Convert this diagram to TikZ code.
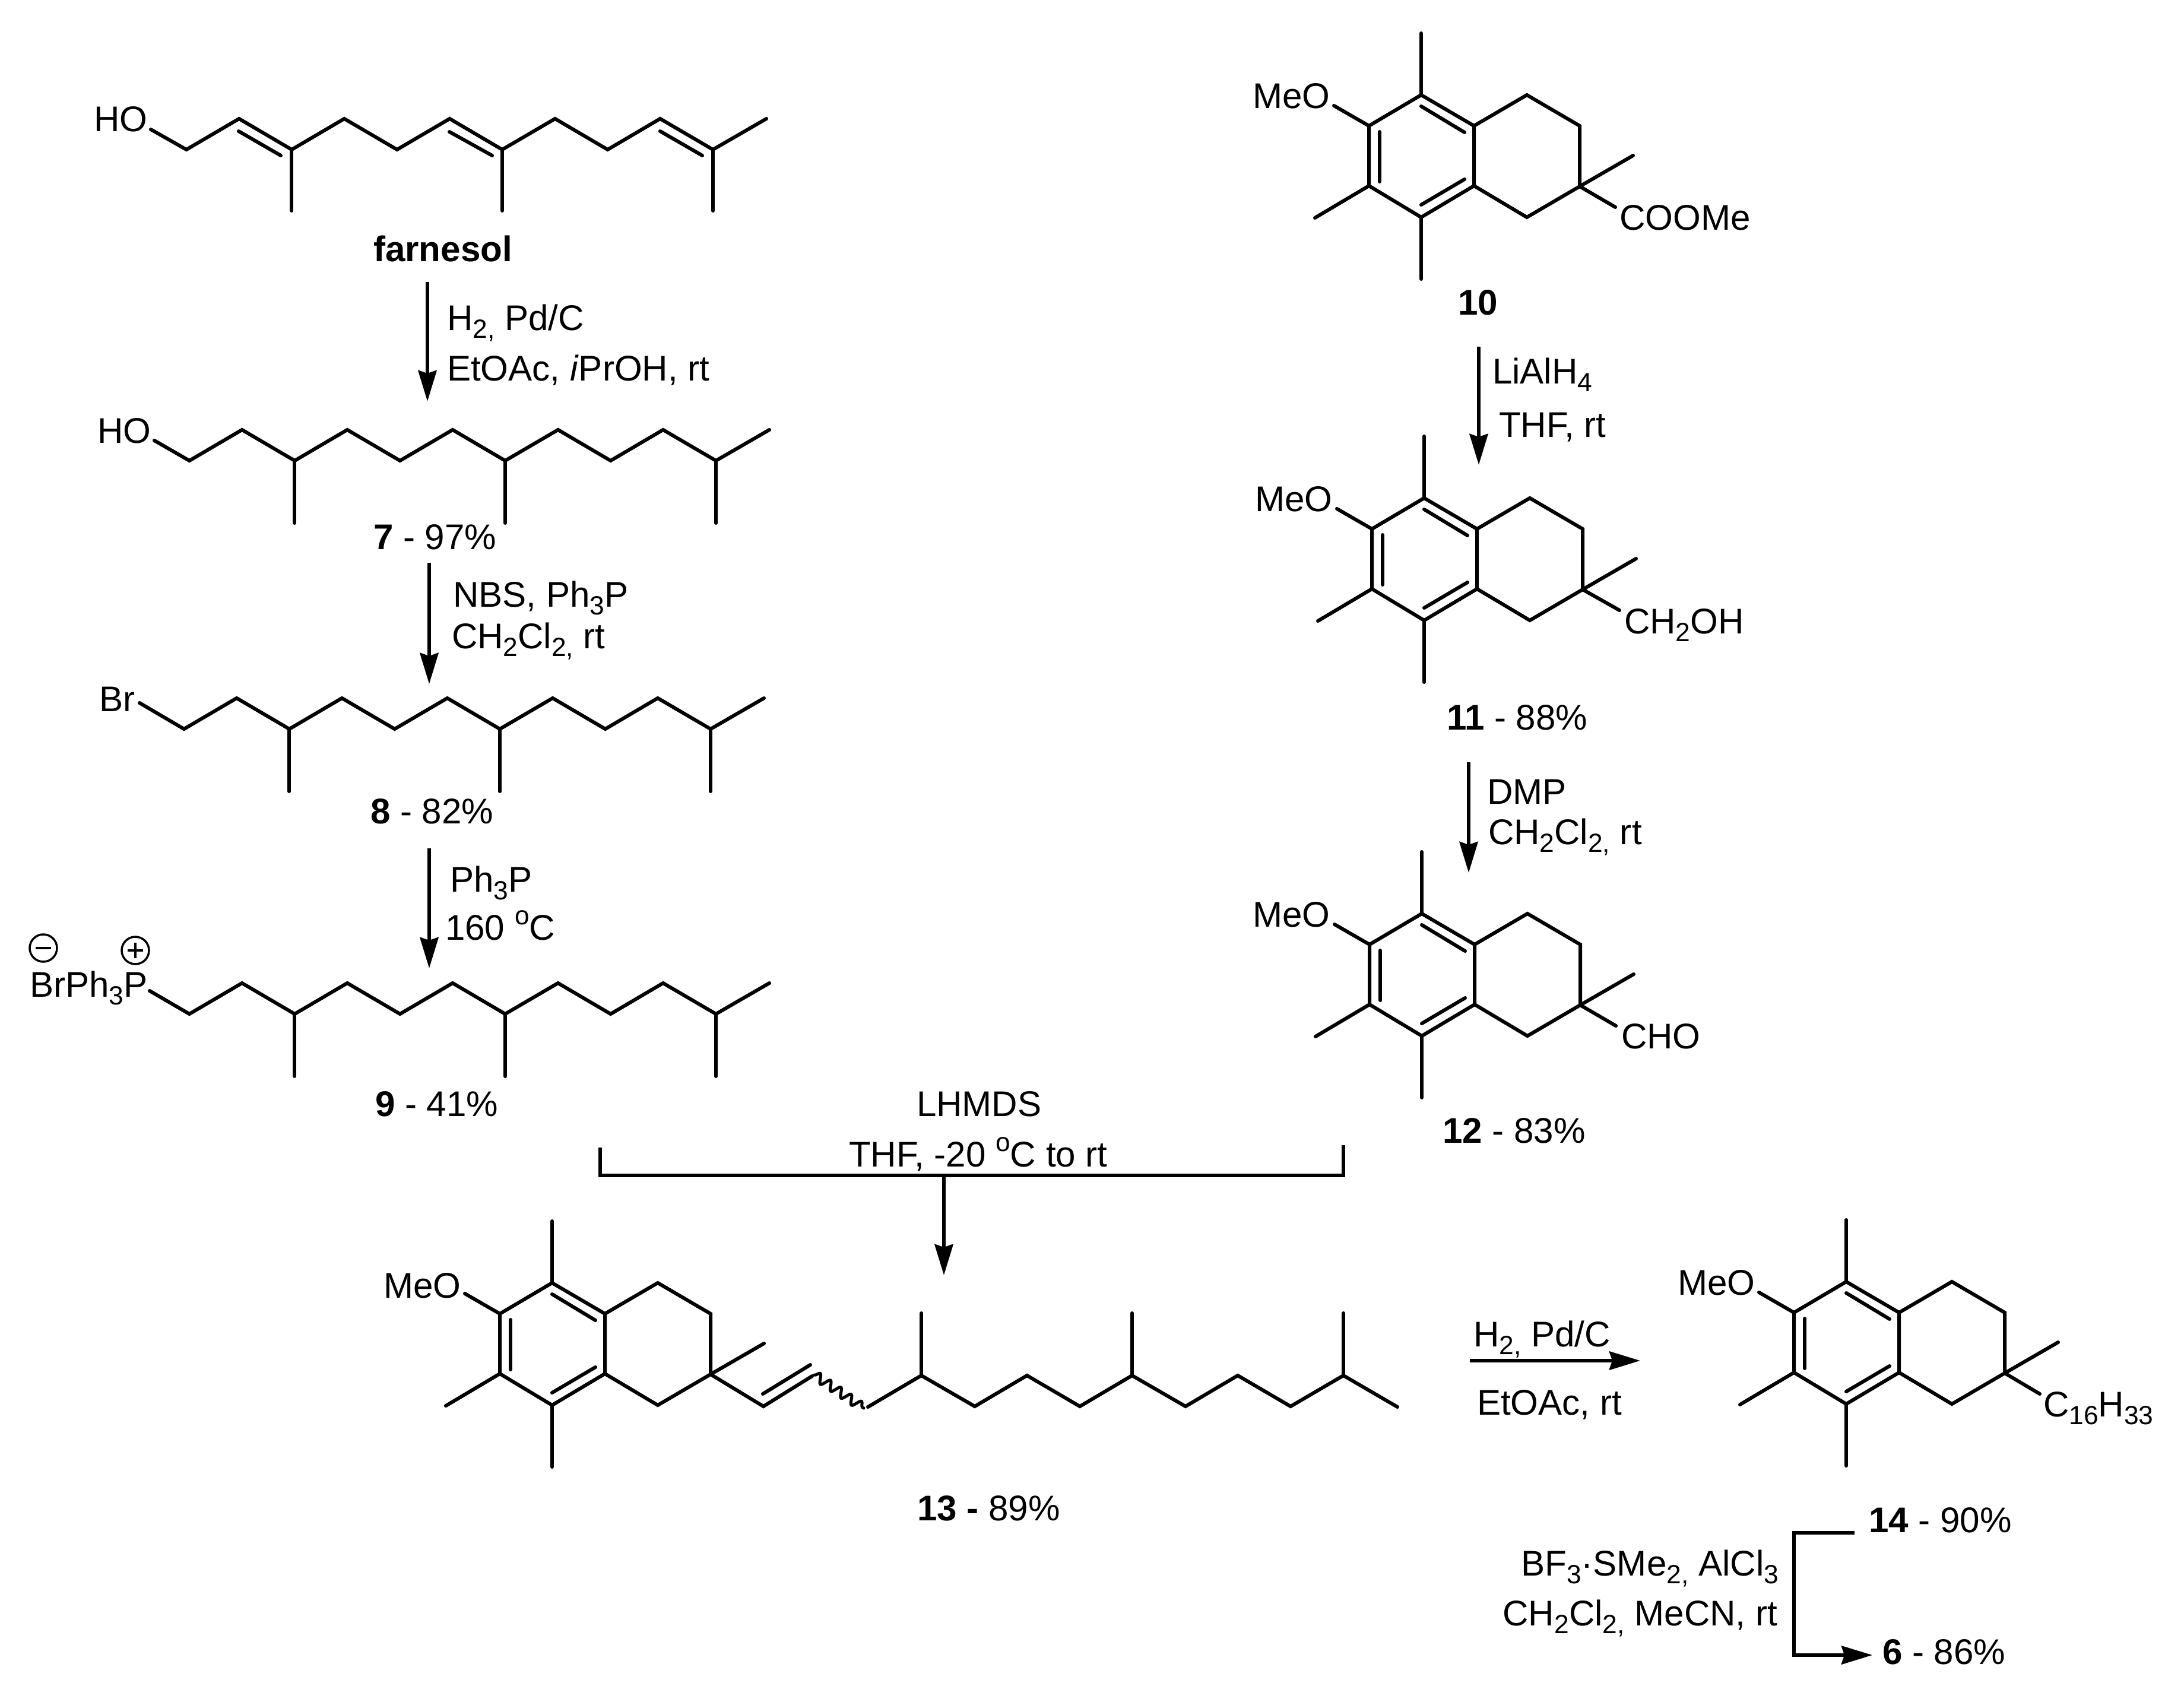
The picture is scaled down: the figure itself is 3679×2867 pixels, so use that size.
\documentclass[tikz,border=0pt]{standalone}
\usepackage{fontspec}
\setmainfont{Liberation Sans}
\usetikzlibrary{arrows.meta,decorations.pathmorphing}
\newcommand{\subs}[1]{\raisebox{-0.23em}{\fontsize{12.6}{14}\selectfont #1}}
\newcommand{\degc}{\raisebox{0.42em}{\fontsize{12.6}{14}\selectfont o}C}
\tikzset{
  bond/.style={line width=0.06cm,line cap=round,line join=miter,black},
  rxn/.style={line width=0.058cm,black,-{Stealth[length=0.52cm,width=0.31cm,inset=0.05cm]}},
  txt/.style={anchor=base west,inner sep=0pt,outer sep=0pt,font=\fontsize{17.1}{20}\selectfont},
  txtr/.style={txt,anchor=base east},
  charge/.style={circle,draw,line width=0.035cm,minimum size=0.46cm,inner sep=0pt}
}
% saturated chain: origin = first valley, #3 #4 = start of the first bond
\newcommand{\chainbones}[4]{%
  \begin{scope}[shift={(#1,#2)}]
    \draw[bond] (#3,#4) -- (0,0) -- (88.7,-52) -- (177.4,0) -- (266,-52) -- (354.8,0) -- (443.5,-52) -- (532,0) -- (621,-52) -- (709.6,0) -- (798,-52) -- (887,0) -- (977,-52);
    \draw[bond] (177.4,0) -- (177.4,105);
    \draw[bond] (532,0) -- (532,105);
    \draw[bond] (887,0) -- (887,105);
  \end{scope}}
% methoxy tetralin: origin = top aromatic carbon, #3 = extra drawing
\newcommand{\tetralin}[3]{%
  \begin{scope}[shift={(#1,#2)}]
    \draw[bond] (0,0) -- (89,52) -- (89,153) -- (0,206) -- (-88,153) -- (-88,52) -- cycle;
    \draw[bond] (89,52) -- (178,0) -- (267,52) -- (267,154) -- (178,206) -- (89,153);
    \draw[bond] (0,19) -- (73,63);
    \draw[bond] (-70,62) -- (-70,146);
    \draw[bond] (0,185) -- (73,142);
    \draw[bond] (0,0) -- (0,-104);
    \draw[bond] (0,206) -- (0,310);
    \draw[bond] (-88,153) -- (-179,207);
    \draw[bond] (-88,52) -- (-147,18);
    \draw[bond] (267,154) -- (357,102);
    #3
  \end{scope}}
\begin{document}
\begin{tikzpicture}[x=0.01cm,y=-0.01cm]
\useasboundingbox (0,0) rectangle (3679,2867);
% farnesol
\begin{scope}[shift={(314,252)}]
  \draw[bond] (-60,-34) -- (0,0) -- (88.7,-52) -- (177.4,0) -- (266,-52) -- (354.8,0) -- (443.5,-52) -- (532,0) -- (621,-52) -- (709.6,0) -- (798,-52) -- (887,0) -- (977,-52);
  \draw[bond] (177.4,0) -- (177.4,103);
  \draw[bond] (532,0) -- (532,103);
  \draw[bond] (887,0) -- (887,103);
  \draw[bond] (88,-31) -- (159,10);
  \draw[bond] (443,-30) -- (515,10);
  \draw[bond] (798,-31) -- (869,10);
\end{scope}
\node[txt] (hoa) at (158,222) {HO};
\node[txt] (farn) at (629,440) {\textbf{farnesol}};
\coordinate (a1s) at (720,475); \coordinate (a1e) at (720,676);
\draw[rxn] (a1s) -- (a1e);
\node[txt] (a1t) at (753,556) {H\subs{2,} Pd/C};
\node[txt] (a1u) at (753,641) {EtOAc, \textit{i}PrOH, rt};
% 7
\chainbones{319}{776}{-59}{-34}
\node[txt] (hob) at (164,746) {HO};
\node[txt] (c7) at (629,925) {\textbf{7} - 97\%};
\coordinate (a2s) at (723,948); \coordinate (a2e) at (723,1152);
\draw[rxn] (a2s) -- (a2e);
\node[txt] (a2t) at (763,1022) {NBS, Ph\subs{3}P};
\node[txt] (a2u) at (761,1092) {CH\subs{2}Cl\subs{2,} rt};
% 8
\chainbones{310}{1228}{-75}{-44}
\node[txt] (br) at (167,1198) {Br};
\node[txt] (c8) at (624,1387) {\textbf{8} - 82\%};
\coordinate (a3s) at (723,1429); \coordinate (a3e) at (723,1631);
\draw[rxn] (a3s) -- (a3e);
\node[txt] (a3t) at (758,1502) {Ph\subs{3}P};
\node[txt] (a3u) at (750,1583) {160 \degc};
% 9
\chainbones{319}{1708}{-67}{-39}
\node[txt] (brp) at (50,1679) {BrPh\subs{3}P};
\node[charge] (minus) at (73,1597) {};
\node[charge] (plus) at (228,1601) {};
\draw[bond,line width=0.045cm,line cap=butt] (minus.center) ++(-13,0) -- ++(26,0);
\draw[bond,line width=0.045cm,line cap=butt] (plus.center) ++(-13,0) -- ++(26,0);
\draw[bond,line width=0.045cm,line cap=butt] (plus.center) ++(0,-13) -- ++(0,26);
\node[txt] (c9) at (632,1880) {\textbf{9} - 41\%};
% 10
\tetralin{2394}{160}{\draw[bond] (267,154) -- (327,189);}
\node[txt] (meoa) at (2110,183) {MeO};
\node[txt] (coome) at (2728,388) {COOMe};
\node[txt] (c10) at (2456,530) {\textbf{10}};
\coordinate (a4s) at (2491,584); \coordinate (a4e) at (2491,783);
\draw[rxn] (a4s) -- (a4e);
\node[txt] (a4t) at (2514,646) {LiAlH\subs{4}};
\node[txt] (a4u) at (2525,736) {THF, rt};
% 11
\tetralin{2399}{839}{\draw[bond] (267,154) -- (329,189);}
\node[txt] (meob) at (2114,861) {MeO};
\node[txt] (choh) at (2736,1067) {CH\subs{2}OH};
\node[txt] (c11) at (2437,1229) {\textbf{11} - 88\%};
\coordinate (a5s) at (2474,1284); \coordinate (a5e) at (2474,1470);
\draw[rxn] (a5s) -- (a5e);
\node[txt] (a5t) at (2505,1354) {DMP};
\node[txt] (a5u) at (2507,1422) {CH\subs{2}Cl\subs{2,} rt};
% 12
\tetralin{2395}{1539}{\draw[bond] (267,154) -- (327,189);}
\node[txt] (meoc) at (2110,1561) {MeO};
\node[txt] (cho) at (2731,1766) {CHO};
\node[txt] (c12) at (2430,1925) {\textbf{12} - 83\%};
% bracket
\coordinate (bl) at (1011,1933); \coordinate (bm) at (1011,1980); \coordinate (bn) at (2263,1980); \coordinate (br2) at (2263,1929);
\draw[bond,line cap=butt] (bl) -- (bm) -- (bn) -- (br2);
\coordinate (a6s) at (1590,1980); \coordinate (a6e) at (1590,2148);
\draw[rxn] (a6s) -- (a6e);
\node[txt] (a6t) at (1544,1880) {LHMDS};
\node[txt] (a6u) at (1430,1965) {THF, -20 \degc{} to rt};
% 13
\tetralin{930}{2161}{}
\begin{scope}[shift={(930,2161)}]
  \draw[bond] (267,154) -- (356,208) -- (438,157);
  \draw[bond] (355,187) -- (435,138);
\end{scope}
\draw[bond,line width=0.05cm,decorate,decoration={snake,segment length=0.21cm,amplitude=0.075cm}] (1372,2316) -- (1455,2372);
\draw[bond] (1462,2370) -- (1552,2317) -- (1642,2369) -- (1730,2317) -- (1819,2369) -- (1907,2317) -- (1997,2369) -- (2085,2317) -- (2174,2369) -- (2263,2317) -- (2354,2370);
\draw[bond] (1552,2317) -- (1552,2212);
\draw[bond] (1907,2317) -- (1907,2212);
\draw[bond] (2263,2317) -- (2263,2212);
\node[txt] (meod) at (646,2186) {MeO};
\node[txt] (c13) at (1545,2561) {\textbf{13 -} 89\%};
% 13 to 14
\coordinate (a7s) at (2476,2292); \coordinate (a7e) at (2763,2292);
\draw[rxn] (a7s) -- (a7e);
\node[txt] (a7t) at (2482,2268) {H\subs{2,} Pd/C};
\node[txt] (a7u) at (2488,2383) {EtOAc, rt};
% 14
\tetralin{3110}{2159}{\draw[bond] (267,154) -- (326,189);}
\node[txt] (meoe) at (2826,2181) {MeO};
\node[txt] (c16) at (3442,2386) {C\subs{16}H\subs{33}};
\node[txt] (c14) at (3148,2581) {\textbf{14} - 90\%};
\node[txt] (c6) at (3171,2803) {\textbf{6} - 86\%};
\coordinate (b1) at (3124,2582); \coordinate (b2) at (3022,2582); \coordinate (b3) at (3022,2788); \coordinate (b4) at (3154,2788);
\draw[rxn,line join=miter] (b1) -- (b2) -- (b3) -- (b4);
\node[txtr] (b1t) at (2996,2654) {BF\subs{3}·SMe\subs{2,} AlCl\subs{3}};
\node[txtr] (b1u) at (2994,2738) {CH\subs{2}Cl\subs{2,} MeCN, rt};
\end{tikzpicture}
\end{document}
